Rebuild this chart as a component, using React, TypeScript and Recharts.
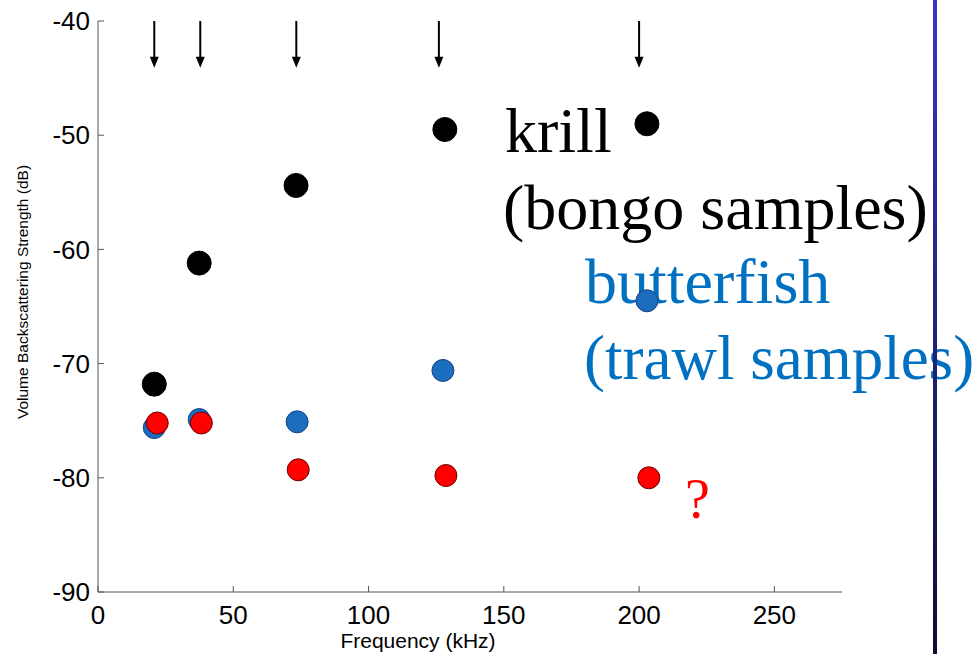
import { ReferenceLine, Scatter, ScatterChart, XAxis, YAxis } from 'recharts';

// Frequency (kHz) / volume backscattering strength (dB) per group
const krillFreq = [20.8, 37.4, 73.2, 128.2, 202.9];
const krillSv = [-71.8, -61.2, -54.4, -49.5, -49.0];
const butterfishFreq = [20.8, 37.4, 73.6, 127.5, 202.9];
const butterfishSv = [-75.6, -74.9, -75.1, -70.6, -64.5];
const trawlFreq = [21.9, 38.2, 74.0, 128.6, 203.6];
const trawlSv = [-75.2, -75.2, -79.3, -79.8, -80.0];

// echosounder frequencies marked with arrows from the top edge
const arrowFreqs = [20.8, 37.8, 73.3, 126.0, 200.0];
const arrowTop = -40;
const arrowTip = -44.1;

const xTicks = [0, 50, 100, 150, 200, 250];
const yTicks = [-90, -80, -70, -60, -50, -40];

const toPoints = (xs: number[], ys: number[]) => xs.map((x, i) => ({ x, y: ys[i] }));

const krill = toPoints(krillFreq, krillSv);
const butterfish = toPoints(butterfishFreq, butterfishSv);
const trawl = toPoints(trawlFreq, trawlSv);

const AXIS = '#555';
const SANS = '"Liberation Sans", Arial, sans-serif';
const SERIF = '"Liberation Serif", "Times New Roman", serif';

function dot(fill: string, stroke: string, r: number) {
  return (p: any) => <circle cx={p.cx} cy={p.cy} r={r} fill={fill} stroke={stroke} strokeWidth={1} />;
}

function Arrow(p: any) {
  const { x1, y1, x2, y2 } = p;
  return (
    <g>
      <line x1={x1} y1={y1} x2={x2} y2={y2 - 10} stroke="#000" strokeWidth={2} />
      <polygon points={`${x2 - 4.5},${y2 - 11} ${x2 + 4.5},${y2 - 11} ${x2},${y2}`} fill="#000" />
    </g>
  );
}

const tickStyle = { fontSize: 26, fill: '#000', fontFamily: SANS };

export default function App() {
  return (
    <div style={{ position: 'absolute', left: 0, top: 0, width: 977, height: 654, background: '#fff' }}>
      <svg width={977} height={654} style={{ position: 'absolute', left: 0, top: 0 }}>
        <defs>
          <linearGradient id="edge" x1="0" x2="0" y1="0" y2="1">
            <stop offset="0%" stopColor="#3535c8" />
            <stop offset="100%" stopColor="#0e0e32" />
          </linearGradient>
        </defs>
        <text x={505} y={152} fontFamily={SERIF} fontSize={64} fill="#000">krill</text>
        <text x={503} y={229} fontFamily={SERIF} fontSize={64} fill="#000">(bongo samples)</text>
        <text x={585} y={303} fontFamily={SERIF} fontSize={64} fill="#0070c0">butterfish</text>
        <text x={584} y={379} fontFamily={SERIF} fontSize={63} fill="#0070c0">(trawl samples)</text>
        <text x={685} y={518} fontFamily={SERIF} fontSize={56} fill="#ff0000">?</text>
        <text x={418} y={648} fontFamily={SANS} fontSize={21} fill="#000" textAnchor="middle">Frequency (kHz)</text>
        <text
          x={22}
          y={292}
          fontFamily={SANS}
          fontSize={15.5}
          fill="#000"
          textAnchor="middle"
          dominantBaseline="central"
          transform="rotate(-90 22 292)"
        >
          Volume Backscattering Strength (dB)
        </text>
        <rect x={933} y={0} width={4} height={654} fill="url(#edge)" />
      </svg>
      <div style={{ position: 'absolute', left: 0, top: 0 }}>
        <ScatterChart width={977} height={654} margin={{ top: 21, right: 135, bottom: 0, left: 0 }}>
          <XAxis
            xAxisId="bottom"
            dataKey="x"
            type="number"
            domain={[0, 275]}
            ticks={xTicks}
            height={62}
            stroke={AXIS}
            tickSize={-6}
            tickMargin={20}
            tick={tickStyle}
            allowDataOverflow
          />
          <XAxis
            xAxisId="top"
            orientation="top"
            dataKey="x"
            type="number"
            domain={[0, 275]}
            ticks={xTicks}
            height={0}
            stroke={AXIS}
            tickSize={-6}
            tick={false}
            allowDataOverflow
          />
          <YAxis
            yAxisId="left"
            dataKey="y"
            type="number"
            domain={[-90, -40]}
            ticks={yTicks}
            width={98}
            stroke={AXIS}
            tickSize={-6}
            tickMargin={14}
            tick={tickStyle}
            allowDataOverflow
          />
          <YAxis
            yAxisId="right"
            orientation="right"
            dataKey="y"
            type="number"
            domain={[-90, -40]}
            ticks={yTicks}
            width={0}
            stroke={AXIS}
            tickSize={-6}
            tick={false}
            allowDataOverflow
          />
          {arrowFreqs.map((f) => (
            <ReferenceLine
              key={f}
              xAxisId="bottom"
              yAxisId="left"
              segment={[{ x: f, y: arrowTop }, { x: f, y: arrowTip }]}
              shape={Arrow}
            />
          ))}
          <Scatter xAxisId="top" yAxisId="right" data={krill} shape={() => null} isAnimationActive={false} />
          <Scatter xAxisId="bottom" yAxisId="left" name="krill" data={krill} shape={dot('#000', '#000', 12)} isAnimationActive={false} />
          <Scatter xAxisId="bottom" yAxisId="left" name="butterfish" data={butterfish} shape={dot('#1b6ebd', '#1a3f86', 11)} isAnimationActive={false} />
          <Scatter xAxisId="bottom" yAxisId="left" name="trawl" data={trawl} shape={dot('#ff0000', '#6a0000', 11)} isAnimationActive={false} />
        </ScatterChart>
      </div>
    </div>
  );
}
